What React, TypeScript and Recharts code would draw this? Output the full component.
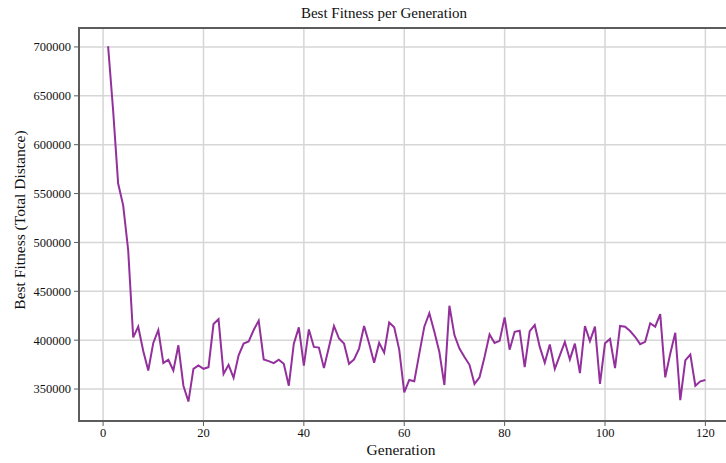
import { LineChart, Line, XAxis, YAxis, CartesianGrid, ReferenceArea } from "recharts";

const generations = Array.from({ length: 120 }, (_, i) => i + 1);

const bestFitness = [
  700700, 635000, 560300, 538000, 492000, 402800, 413800, 389000, 369000, 397200,
  410400, 376500, 380000, 369000, 394800, 353400, 337200, 370700, 374100, 370700,
  372400, 416500, 421400, 365500, 374800, 361400, 384500, 396500, 398600, 410400,
  420000, 380300, 378600, 376500, 380000, 375800, 353400, 396500, 413100, 374000,
  411000, 393100, 392400, 371400, 393100, 414500, 401700, 396500, 375800, 380300,
  391400, 414500, 396500, 376900, 397200, 387200, 418000, 413100, 390300, 346500,
  359300, 357900, 386200, 413800, 427600, 408600, 387900, 354100, 435200, 405200,
  391400, 382800, 374800, 355200, 362000, 382800, 405900, 397200, 399300, 423300,
  390300, 408600, 409700, 372400, 409300, 415500, 393100, 376900, 395500, 370700,
  384500, 398300, 380300, 396500, 366200, 414500, 399000, 413800, 355200, 396800,
  401200, 371400, 414500, 413800, 409300, 403500, 395900, 398300, 417300, 413800,
  426600, 362000, 386200, 407600, 338600, 379300, 385200, 353400, 357900, 359300,
];

const xTicks = [0, 20, 40, 60, 80, 100, 120];
const yTicks = [350000, 400000, 450000, 500000, 550000, 600000, 650000, 700000];

const X_MIN = -4.8;
const X_MAX = 125.9;
const Y_MIN = 317300;
const Y_MAX = 719400;

const data = generations.map((g, i) => ({ gen: g, fitness: bestFitness[i] }));

const FONT = '"Liberation Serif", "Times New Roman", serif';

export default function App() {
  return (
    <div
      style={{
        position: "absolute",
        left: 0,
        top: 0,
        width: 726,
        height: 463,
        overflow: "hidden",
        background: "#fff",
        fontFamily: FONT,
      }}
    >
      <LineChart
        width={760}
        height={463}
        data={data}
        margin={{ top: 28, right: 25, left: 0, bottom: 0 }}
      >
        <CartesianGrid stroke="#d6d6d6" strokeWidth={1.5} horizontalValues={yTicks} verticalValues={xTicks} />
        <XAxis
          type="number"
          dataKey="gen"
          domain={[X_MIN, X_MAX]}
          ticks={xTicks}
          allowDataOverflow
          height={42}
          axisLine={{ stroke: "#5c5c5c", strokeWidth: 2 }}
          tickLine={{ stroke: "#5c5c5c" }}
          tickSize={5}
          tickMargin={2}
          tick={{ fill: "#111", fontSize: 12.5, fontFamily: FONT }}
        />
        <YAxis
          type="number"
          domain={[Y_MIN, Y_MAX]}
          ticks={yTicks}
          allowDataOverflow
          width={79}
          axisLine={{ stroke: "#5c5c5c", strokeWidth: 2 }}
          tickLine={{ stroke: "#5c5c5c" }}
          tickSize={5}
          tickMargin={3}
          tick={{ fill: "#111", fontSize: 12.5, fontFamily: FONT }}
        />
        <ReferenceArea
          x1={X_MIN}
          x2={X_MAX}
          y1={Y_MIN}
          y2={Y_MAX}
          fill="none"
          stroke="#5c5c5c"
          strokeWidth={2}
          ifOverflow="visible"
        />
        <Line
          type="linear"
          dataKey="fitness"
          stroke="#93309c"
          strokeWidth={2}
          dot={false}
          isAnimationActive={false}
        />
      </LineChart>
      <div
        style={{
          position: "absolute",
          left: 384,
          top: 13,
          transform: "translate(-50%, -50%)",
          fontSize: 15,
          whiteSpace: "nowrap",
          color: "#111",
        }}
      >
        Best Fitness per Generation
      </div>
      <div
        style={{
          position: "absolute",
          left: 401,
          top: 450,
          transform: "translate(-50%, -50%)",
          fontSize: 15.5,
          whiteSpace: "nowrap",
          color: "#111",
        }}
      >
        Generation
      </div>
      <div
        style={{
          position: "absolute",
          left: 20,
          top: 220,
          transform: "translate(-50%, -50%) rotate(-90deg)",
          fontSize: 15.5,
          whiteSpace: "nowrap",
          color: "#111",
        }}
      >
        Best Fitness (Total Distance)
      </div>
    </div>
  );
}
